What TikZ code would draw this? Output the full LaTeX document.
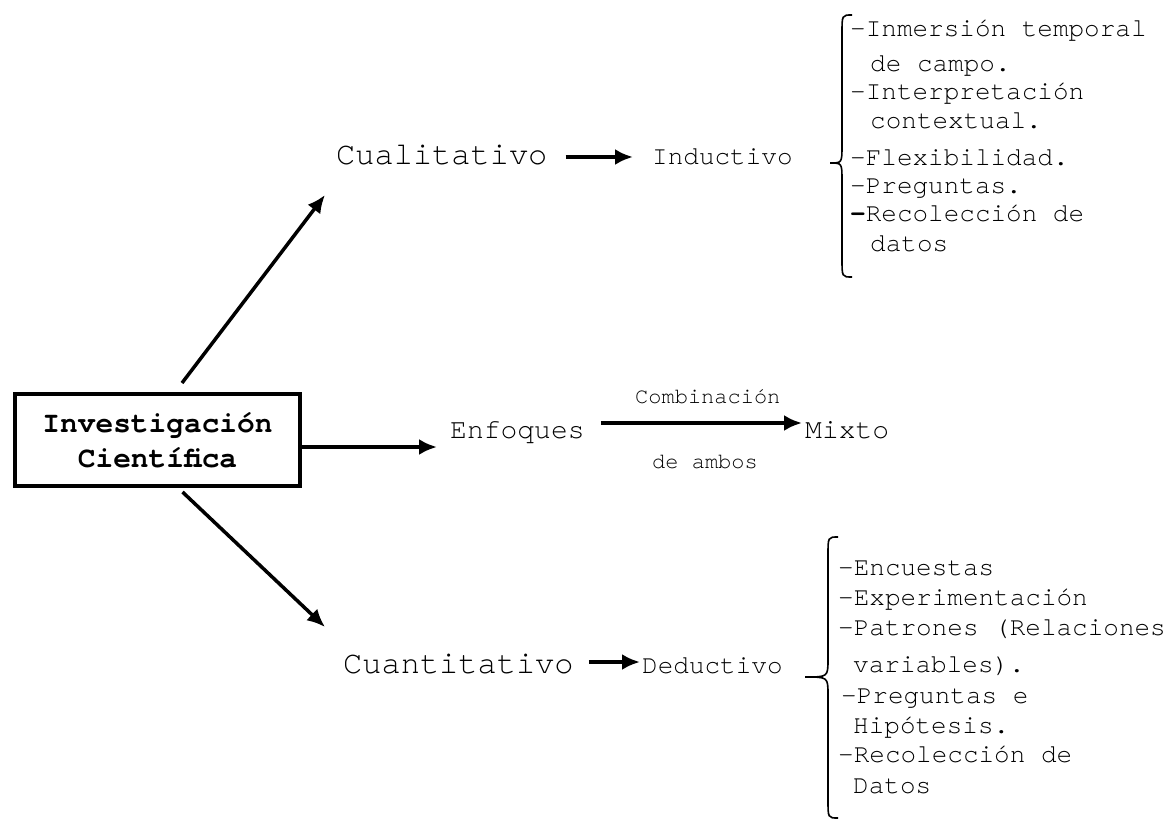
\documentclass[tikz,border=0pt]{standalone}
\usepackage{fontspec}
\setmainfont{TeX Gyre Cursor}
\usetikzlibrary{arrows.meta, calc}

% llave: extremos, linea, punta, arriba, medio, abajo
\newcommand{\llave}[6]{%
  \draw[llavelinea] (#1,#4) .. controls (#2,#4) .. (#2,{#4+18})
    -- (#2,{#5-18}) .. controls (#2,#5) .. (#3,#5)
    .. controls (#2,#5) .. (#2,{#5+18})
    -- (#2,{#6-18}) .. controls (#2,#6) .. (#1,#6);}

\begin{document}
\begin{tikzpicture}[
  x=1pt, y=-1pt,
  >={Latex[length=18pt,width=16pt]},
  flecha/.style = {->, line width=3.5pt},
  caja/.style   = {draw, line width=4pt, minimum width=285pt, minimum height=92pt,
                   align=center, font=\fontsize{29.5}{35}\selectfont\bfseries},
  texto/.style  = {inner sep=0pt, anchor=base west},
  grande/.style = {texto, font=\fontsize{32}{36}\selectfont},
  medio/.style  = {texto, font=\fontsize{28}{32}\selectfont},
  chico/.style  = {texto, font=\fontsize{26}{30}\selectfont},
  nota/.style   = {texto, font=\fontsize{22}{26}\selectfont},
  lista/.style  = {texto, font=\fontsize{26}{30}\selectfont},
  llavelinea/.style = {line width=1.6pt},
]
  \useasboundingbox (0,0) rectangle (1165,821);

%--- Centro ---
  \node[caja]   (inv)   at (157.5,440) {Investigación\\Científica};

  \node[grande] (cual)  at (336,165) {Cualitativo};
  \node[chico]  (induc) at (652,165) {Inductivo};

  \node[medio]  (enf)   at (450,438) {Enfoques};
  \node[medio]  (mixto) at (805,438) {Mixto};
  \node[nota]   (comb)  at (635,403) {Combinación};
  \node[nota]   (ambos) at (652,468) {de ambos};

  \node[grande] (cuan)  at (343,673) {Cuantitativo};
  \node[chico]  (deduc) at (642,673) {Deductivo};

  \draw[flecha] ([xshift=24.5pt,yshift=9pt]inv.north) -- ([xshift=-11pt,yshift=-30pt]cual.base west);
  \draw[flecha] ([yshift=-7pt]inv.east) -- ([xshift=-13pt,yshift=-9pt]enf.base west);
  \draw[flecha] ([xshift=25pt,yshift=-4pt]inv.south) -- ([xshift=-18pt,yshift=46pt]cuan.base west);

  \draw[flecha, shorten <=18pt, shorten >=19pt] ([yshift=8pt]cual.base east) -- ([yshift=8pt]induc.base west);
  \draw[flecha, shorten <=16pt, shorten >=3pt] ([yshift=15pt]enf.base east) -- ([yshift=15pt]mixto.base west);
  \draw[flecha, shorten <=15pt, shorten >=2pt] ([yshift=11pt]cuan.base east) -- ([yshift=11pt]deduc.base west);

%--- Listas ---
  \llave{852}{842}{830}{15}{163}{277}
  \foreach \px/\py/\txt [count=\i] in {
      850/37/-Inmersión temporal, 870/72/de campo., 850/100/-Interpretación,
      870/129/contextual., 850/166/-Flexibilidad., 850/194/-Preguntas.,
      850/222/{{\bfseries -}Recolección de}, 870/252/datos}
    \node[lista] (lc\i) at (\px,\py) {\txt};

  \llave{838}{828}{805}{537}{677}{818}
  \foreach \px/\py/\txt [count=\i] in {
      838/575/-Encuestas, 838/605/-Experimentación, 838/635/-Patrones (Relaciones,
      853/672/variables)., 841/703/-Preguntas e, 853/733/Hipótesis.,
      838/762/-Recolección de, 853/793/Datos}
    \node[lista] (ld\i) at (\px,\py) {\txt};
\end{tikzpicture}
\end{document}
